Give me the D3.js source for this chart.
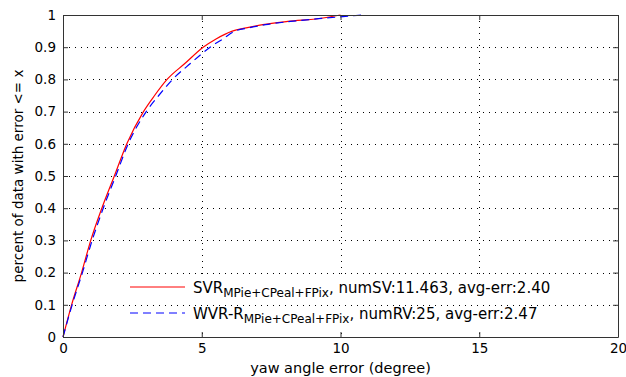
<!DOCTYPE html>
<html>
<head>
<meta charset="utf-8">
<script src="https://cdn.jsdelivr.net/npm/d3@7"></script>
<style>
body { margin: 0; background: #fff; }
text { font-family: "DejaVu Sans", sans-serif; fill: #000; }
</style>
</head>
<body>
<div id="chart"></div>
<script>
var w = 626,
	h = 377,
	mLeft = 63,
	mRight = 618,
	mTop = 15,
	mBottom = 337;

// cdf of yaw angle error
var svrErr = [0, 0.31, 0.67, 1.0, 1.4, 1.85, 2.3, 2.9, 3.3, 3.75, 4.4, 5.05, 5.5, 6.1, 6.6, 7.2, 8.1, 9.3, 10.0]
var svrPct = [0, 0.1, 0.2, 0.3, 0.4, 0.5, 0.6, 0.7, 0.75, 0.8, 0.85, 0.9, 0.925, 0.95, 0.96, 0.97, 0.98, 0.99, 1.0]
var wvrErr = [0, 0.33, 0.7, 1.05, 1.45, 1.9, 2.35, 3.0, 3.45, 3.95, 4.6, 5.3, 5.75, 6.2, 6.7, 7.3, 8.2, 9.4, 10.8]
var wvrPct = [0, 0.1, 0.2, 0.3, 0.4, 0.5, 0.6, 0.7, 0.75, 0.8, 0.85, 0.9, 0.925, 0.95, 0.96, 0.97, 0.98, 0.99, 1.0]

var xTicks = [0, 5, 10, 15, 20]
var yTicks = [0, 0.1, 0.2, 0.3, 0.4, 0.5, 0.6, 0.7, 0.8, 0.9, 1]

var x = d3.scaleLinear().domain([0, 20]).range([mLeft, mRight]),
	y = d3.scaleLinear().domain([0, 1]).range([mBottom, mTop]);

var svg = d3.select('#chart').append('svg')
	.attr('width', w)
	.attr('height', h);

// dotted grid
svg.selectAll('.gx')
	.data(xTicks.slice(1, -1))
	.enter().append('line')
	.attr('x1', function(d) { return Math.round(x(d)) + 0.5 })
	.attr('x2', function(d) { return Math.round(x(d)) + 0.5 })
	.attr('y1', mTop)
	.attr('y2', mBottom)
	.style('stroke', '#000')
	.style('stroke-width', 1)
	.style('stroke-dasharray', '1,5');

function hGrid(sel) {
	sel.attr('x1', mLeft)
		.attr('x2', mRight)
		.attr('y1', function(d) { return Math.round(y(d)) + 0.5 })
		.attr('y2', function(d) { return Math.round(y(d)) + 0.5 })
		.style('stroke', '#000')
		.style('stroke-width', 1)
		.style('stroke-dasharray', '1,5');
}

svg.selectAll('.gy')
	.data(yTicks.slice(1, -1))
	.enter().append('line')
	.call(hGrid);

// legend background hides the vertical grid
svg.append('rect')
	.attr('x', 126).attr('y', 276)
	.attr('width', 440).attr('height', 52)
	.style('fill', '#fff');
svg.append('line').datum(0.1).call(hGrid);

var line = d3.line()
	.curve(d3.curveMonotoneX)
	.x(function(d) { return x(d[0]) })
	.y(function(d) { return y(d[1]) });

svg.append('path')
	.datum(d3.zip(svrErr, svrPct))
	.attr('d', line)
	.style('fill', 'none')
	.style('stroke', '#ff0000')
	.style('stroke-width', 1.2);

svg.append('path')
	.datum(d3.zip(wvrErr, wvrPct))
	.attr('d', line)
	.style('fill', 'none')
	.style('stroke', '#0000ff')
	.style('stroke-width', 1.2)
	.style('stroke-dasharray', '8,5');

// axes box with inner ticks on all four sides
var xAxisB = d3.axisBottom(x).tickValues(xTicks).tickSizeInner(-5).tickSizeOuter(0).tickPadding(6),
	xAxisT = d3.axisTop(x).tickValues(xTicks).tickSizeInner(-5).tickSizeOuter(0).tickFormat(''),
	yAxisL = d3.axisLeft(y).tickValues(yTicks).tickSizeInner(-5).tickSizeOuter(0).tickPadding(7).tickFormat(d3.format('~g')),
	yAxisR = d3.axisRight(y).tickValues(yTicks).tickSizeInner(-5).tickSizeOuter(0).tickFormat('');

function styleAxis(g) {
	g.selectAll('path').style('stroke', '#333');
	g.selectAll('line').style('stroke', '#333');
	g.selectAll('text').style('font-family', '"DejaVu Sans", sans-serif').style('font-size', '13.5px').style('fill', '#000');
}

svg.append('g').attr('transform', 'translate(0,' + mBottom + ')').call(xAxisB).call(styleAxis);
svg.append('g').attr('transform', 'translate(0,' + mTop + ')').call(xAxisT).call(styleAxis);
svg.append('g').attr('transform', 'translate(' + mLeft + ',0)').call(yAxisL).call(styleAxis);
svg.append('g').attr('transform', 'translate(' + mRight + ',0)').call(yAxisR).call(styleAxis);

// axis titles
svg.append('text')
	.attr('x', (mLeft + mRight) / 2)
	.attr('y', 373)
	.attr('text-anchor', 'middle')
	.style('font-size', '14.5px')
	.text('yaw angle error (degree)');

svg.append('text')
	.attr('transform', 'translate(23,' + ((mTop + mBottom) / 2) + ') rotate(-90)')
	.attr('text-anchor', 'middle')
	.style('font-size', '13.5px')
	.text('percent of data with error <= x');

// legend
var legend = [
	{ name: 'SVR', sub: 'MPie+CPeal+FPix', rest: ', numSV:11.463, avg-err:2.40', color: '#ff0000', dash: null },
	{ name: 'WVR-R', sub: 'MPie+CPeal+FPix', rest: ', numRV:25, avg-err:2.47', color: '#0000ff', dash: '8,5' }
];

var lg = svg.selectAll('.lg')
	.data(legend)
	.enter().append('g')
	.attr('transform', function(d, i) { return 'translate(130,' + (287 + i * 26) + ')' });

lg.append('line')
	.attr('x1', 0).attr('x2', 55)
	.style('stroke', function(d) { return d.color })
	.style('stroke-width', 1)
	.style('stroke-dasharray', function(d) { return d.dash });

var lt = lg.append('text')
	.attr('x', 63)
	.attr('y', 6)
	.style('font-size', '15px');
lt.append('tspan').text(function(d) { return d.name });
lt.append('tspan').attr('dy', 4).style('font-size', '12px').text(function(d) { return d.sub });
lt.append('tspan').attr('dy', -4).text(function(d) { return d.rest });
</script>
</body>
</html>
